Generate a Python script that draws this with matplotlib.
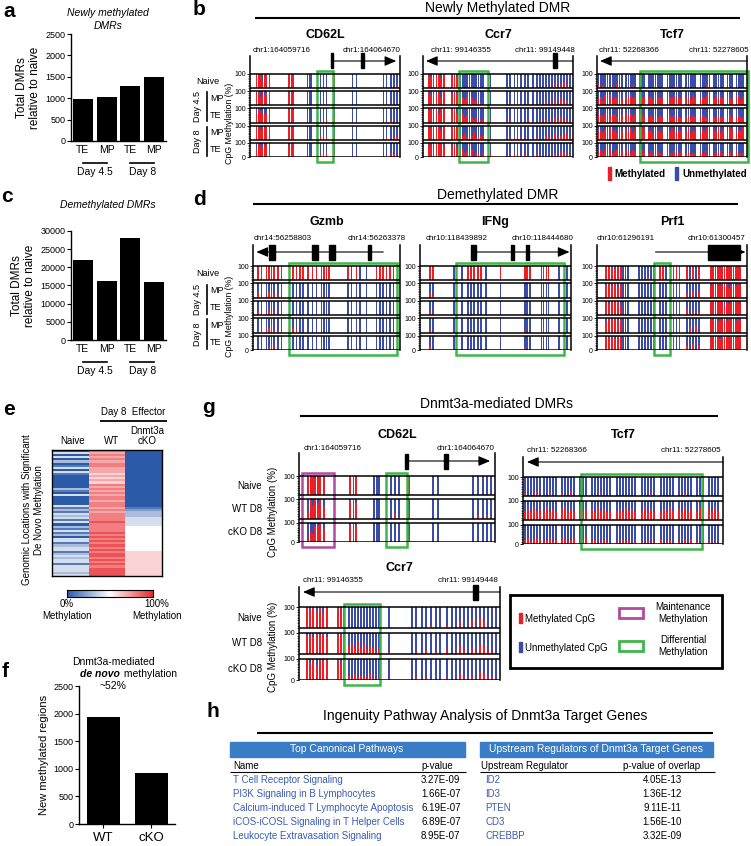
import numpy as np
import matplotlib
matplotlib.use('Agg')
import matplotlib.pyplot as plt
from matplotlib.patches import Rectangle
from matplotlib.colors import LinearSegmentedColormap

plt.rcParams['font.family'] = ['Liberation Sans', 'DejaVu Sans']

W, H = 751, 846
RED = '#ec1f27'
BLUE = '#3a4ca8'
GREEN = '#3fb54a'
MAGENTA = '#b14b9e'
LINK = '#3a5db4'
HEAD = '#3a7dc6'

# ---- panels a, c, f
bar_groups = ['TE', 'MP', 'TE', 'MP']
bar_days = ['Day 4.5', 'Day 8']
newly_methylated = [980, 1030, 1290, 1490]
demethylated = [22000, 16300, 28000, 16000]
f_labels = ['WT', 'cKO']
f_values = [1940, 930]

# ---- CpG methylation tracks
# one char per CpG: 0-9 = tenths methylated, x = fully methylated
b_samples = ['Naive', 'MP', 'TE', 'MP', 'TE']
g_samples = ['Naive', 'WT D8', 'cKO D8']

cd62l_pos = [4.4, 6.2, 7.3, 8.4, 9.6, 10.7, 12.9, 26.2, 27.8, 29, 38.4, 39.6, 40.8,
             47.1, 48.9, 51.1, 56, 68.4, 71.1, 88.9, 91.1, 93.8, 96, 97.8]
cd62l_b = ['xxx4xxx xxx 000 000 x 00 00002',
           '8x6x79x 8x9 010 221 3 00 01200',
           '7x8667x 9x8 001 132 4 10 00210',
           '9x7x8xx x9x 010 342 3 00 02013',
           '6x8798x 8x9 100 243 5 01 00321']
cd62l_g = ['xxx9xxx xxx 000 000 x 00 00000',
           '4x7x8x6 9x8 000 031 4 00 02020',
           '15489x7 9x9 000 000 3 00 00000']

ccr7_pos = [4, 5.5, 7, 9, 10.5, 12, 14, 19.5, 21, 22.5,
            25, 26.5, 28, 29.5, 31, 32.5, 34, 35.5, 37, 38.5, 40, 45,
            56, 58, 61, 63, 65.5, 68, 70,
            73.5, 76, 78, 80, 82, 84, 86, 88, 90, 92, 94, 96, 98]
ccr7_b = ['x8x9x7x 9x8 00000000000 0 0000010 0000100302420',
          'x7x8x6x 8x9 35462534221 1 0210201 0010300415330',
          '9x8x7xx 9x7 46353423122 2 1201012 1020210324221',
          'x8x9x7x x89 43524361233 1 0120100 0100310523441',
          '8x7x9x8 897 35342513212 2 1020120 0201100314321']
ccr7_g = ['x9x8x7x x9x 00000000000 0 0000100 1003004053000',
          '9x8x9x8 9x9 45363524312 1 0102010 2014203154210',
          'x8x7x9x x8x 21312213101 0 0101000 1003102043110']

tcf7_pos = [1, 2.5, 4, 5.5, 7, 8.5, 10.5, 12, 13.5, 15, 16.5,
            19.5, 21, 22.5, 24, 25.5, 28.5, 30, 31.5,
            34.5, 36, 37.5, 39, 40.5, 42, 43.5, 47, 48.5, 50, 51.5, 53, 54.5, 56,
            59.5, 61, 62.5, 64, 65.5, 69, 70.5, 72, 73.5, 75,
            78, 79.5, 81, 82.5, 84, 87, 88.5, 90, 93, 94.5, 96, 97.5]
tcf7_b = ['312041 20310 01020 010 1002010 0100200 01001 10020 00100 010 0010',
          '563757 46574 65756 465 5647565 4657465 56475 46574 57465 564 5746',
          '654675 56465 75646 564 4535453 3545343 45354 35435 43534 453 3543',
          '675768 67586 76857 687 6758675 7686576 68576 57686 76857 687 5768',
          '453545 34534 54354 453 3423432 4324234 34232 43423 24342 342 4323']
tcf7_g = ['201030 10210 20130 010 0102010 0010100 01020 10010 00201 010 0100',
          '564756 57465 67564 756 6475645 5647564 47564 56475 64756 475 6475',
          '231232 12312 32123 123 1201210 1021201 10201 20120 10202 101 1010']

gzmb_pos = [3.4, 5.7, 9.1, 10.9, 12.5, 14.1, 17, 19.3, 27.3, 29.5, 31.8, 34.1,
            37.5, 40.5, 43.2, 46.6, 48.4, 50, 51.6, 64.8, 67, 70.5, 72.7, 77.3,
            84.1, 86.4, 88.6, 90.9, 93.2, 95.5]
gzmb_d = ['xxxxxx9x xxxx xx9 xxxx x0x0 0 9xxxxx',
          '30154320 0000 000 0010 0000 0 000002',
          '20143210 0100 000 0001 0000 0 000010',
          '10235210 3200 000 0000 0000 0 000001',
          '00124310 0000 000 0000 0000 0 000000']

ifng_pos = [6.5, 8.4, 22.7, 27.9, 31.8, 33.8, 35.7, 38.3, 40.3, 43.5, 53.2,
            69.5, 70.8, 72.7, 80.5, 81.8, 83.8, 85, 92.2, 97.4]
ifng_d = ['xx 00 x9xxx 0 x xxx 8x9x 00',
          '31 00 00000 0 0 000 0200 00',
          '21 00 00100 0 0 100 0010 00',
          '20 00 01000 0 0 200 1300 00',
          '31 00 00000 0 0 200 0000 00']

prf1_pos = [6, 8, 10, 12, 14, 16, 17.5, 19, 20.5, 28, 30, 32, 34, 36, 38,
            42, 44, 46, 51, 53, 55, 60, 62, 64, 66, 68,
            76, 77.5, 79, 80.5, 82, 83.5, 85, 86.5, 88, 89.5, 91, 92.5, 94, 95.5]
prf1_d = ['xxx8xx 100 010200 xx0 xxx x0x0x xxxxxxxxxxxxxx',
          '9x8x7x 000 000000 000 x0x 30504 8x9x8x9x79x8x9',
          'x8x9x7 100 000000 000 x0x 40302 9x8x9x7x8x9xx8',
          '8x9x8x 000 000000 000 x0x 04050 x9x8x9x8x9x8x9',
          'x9x8x9 000 010000 000 x0x 30403 9x9x8x9x9x8x9x']

cd62l_chr = ('chr1:164059716', 'chr1:164064670')
ccr7_chr = ('chr11: 99146355', 'chr11: 99149448')
tcf7_chr = ('chr11: 52268366', 'chr11: 52278605')
gzmb_chr = ('chr14:56258803', 'chr14:56263378')
ifng_chr = ('chr10:118439892', 'chr10:118444680')
prf1_chr = ('chr10:61296191', 'chr10:61300457')

# gene models: (tail, arrow tip) and exons (start, width) in % of the window
cd62l_model = dict(tail=54.5, tip=97.5, exons=[(54.2, 1.2), (74.2, 2.0)])
ccr7_model = dict(tail=100, tip=2, exons=[(86.8, 2.4)])
tcf7_model = dict(tail=100, tip=2, exons=[])
gzmb_model = dict(tail=88.6, tip=2.3, exons=[(11, 4), (40, 4), (52, 4), (78, 2)])
ifng_model = dict(tail=35, tip=99, exons=[(34, 3), (60, 2.5), (70, 2.5)])
prf1_model = dict(tail=39, tip=99, exons=[(74, 21.5)])

# ---- panel e heatmap (rows = genomic locations)
heat_naive = '0404030140 4100000031 0400004131 4341403141 3044134413 4344144434'
heat_wt = '8787878877 7676768787 8788788787 8888988889 8989898989 9898989999'
heat_cko = '0000000000 0000000000 0000000123 3344445555 5555555566 6666666666'

# ---- panel h tables
pathways = ['T Cell Receptor Signaling', 'PI3K Signaling in B Lymphocytes',
            'Calcium-induced T Lymphocyte Apoptosis', 'iCOS-iCOSL Signaling in T Helper Cells',
            'Leukocyte Extravasation Signaling']
pathway_p = ['3.27E-09', '1.66E-07', '6.19E-07', '6.89E-07', '8.95E-07']
regulators = ['ID2', 'ID3', 'PTEN', 'CD3', 'CREBBP']
regulator_p = ['4.05E-13', '1.36E-12', '9.11E-11', '1.56E-10', '3.32E-09']


def meth(s):
    return np.array([1.0 if c == 'x' else int(c) / 10 for c in s.replace(' ', '')])


fig = plt.figure(figsize=(W / 100, H / 100), dpi=100)


def add_ax(x0, y0, x1, y1):
    return fig.add_axes([x0 / W, 1 - y1 / H, (x1 - x0) / W, (y1 - y0) / H])


def bar_panel(x0, y0, x1, y1, labels, values, ymax, step, width, ticklen=0, xfs=7.5):
    ax = add_ax(x0, y0, x1, y1)
    x = np.arange(len(values))
    ax.bar(x, values, width, color='black')
    ax.set_xlim(-0.5, len(values) - 0.5)
    ax.set_ylim(0, ymax)
    ax.set_yticks(np.arange(0, ymax + 1, step))
    ax.set_xticks(x, labels)
    for s in ('top', 'right'):
        ax.spines[s].set_visible(False)
    for s in ('left', 'bottom'):
        ax.spines[s].set_linewidth(1.0)
    ax.tick_params(axis='y', labelsize=6.5, length=3, width=0.8, pad=1)
    ax.tick_params(axis='x', labelsize=xfs, length=ticklen, width=0.8, pad=3)
    return ax


def day_groups(ax, h_px):
    tr = ax.get_xaxis_transform()
    for k, d in enumerate(bar_days):
        i0, i1 = 2 * k, 2 * k + 1
        ax.plot([i0, i1], [-22 / h_px] * 2, color='k', lw=1.2, transform=tr, clip_on=False)
        ax.text((i0 + i1) / 2, -31 / h_px, d, transform=tr, ha='center', va='center', fontsize=7.5)


def track(x0, x1, y_sp, y_top, y_bot, y_gene, pos, rows, model, boxes, width=1.1, gap=0.22):
    n = len(rows)
    T = n + (n - 1) * gap
    u = T / (y_bot - y_top)
    top = T + (y_top - y_sp) * u
    ax = add_ax(x0, y_sp, x1, y_bot)
    ax.set_xlim(0, 100)
    ax.set_ylim(0, top)
    ax.patch.set_alpha(0)
    pos = np.asarray(pos)
    tops = []
    for i, s in enumerate(rows):
        m = meth(s)
        base = T - 1 - i * (1 + gap)
        ax.bar(pos, m, width, bottom=base, color=RED, linewidth=0, antialiased=False)
        ax.bar(pos, 1 - m, width, bottom=base + m, color=BLUE, linewidth=0, antialiased=False)
        ax.hlines([base, base + 1], 0, 100, color='black', lw=1.1)
        tops.append(base + 1)
    ax.set_yticks(tops + [0])
    ax.set_yticklabels(['100'] * n + ['0'])
    minor = np.concatenate([np.arange(t - 1, t, 0.125) for t in tops])
    ax.set_yticks(minor, minor=True)
    ax.tick_params(axis='y', which='major', labelsize=5, length=2.5, width=0.6, pad=0.5)
    ax.tick_params(axis='y', which='minor', length=1.2, width=0.4)
    ax.set_xticks([])
    for s in ('top', 'bottom'):
        ax.spines[s].set_visible(False)
    for s in ('left', 'right'):
        ax.spines[s].set_linewidth(1.1)
    ys = T + (y_top - y_gene) * u
    eh = 15 * u
    ax.annotate('', xy=(model['tip'], ys), xytext=(model['tail'], ys),
                arrowprops=dict(arrowstyle='-|>,head_length=0.7,head_width=0.3', color='k',
                                lw=0.8, shrinkA=0, shrinkB=0), annotation_clip=False)
    for ex, ew in model['exons']:
        ax.add_patch(Rectangle((ex, ys - eh / 2), ew, eh, color='k', clip_on=False))
    for bx0, bx1, col in boxes:
        ax.add_patch(Rectangle((bx0, -5 * u), bx1 - bx0, T + 8 * u, fill=False,
                               ec=col, lw=1.8, clip_on=False))
    return [y_top + (i * (1 + gap) + 0.5) / u for i in range(n)]


# ---------------- panel a
ax_a = bar_panel(71, 34, 166, 141, bar_groups, newly_methylated, 2500, 500, 0.85)
ax_a.set_ylabel('Total DMRs\nrelative to naive', fontsize=8.5, labelpad=3, linespacing=1.1)
day_groups(ax_a, 107)

# ---------------- panel c
ax_c = bar_panel(71, 231, 166, 340, bar_groups, demethylated, 30000, 5000, 0.85)
ax_c.set_ylabel('Total DMRs\nrelative to naive', fontsize=8.5, labelpad=3, linespacing=1.1)
day_groups(ax_c, 109)

# ---------------- panel f
ax_f = bar_panel(79, 686, 175, 824, f_labels, f_values, 2500, 500, 0.69, ticklen=3, xfs=9.5)
ax_f.set_xlim(-0.51, 1.5)
ax_f.set_ylabel('New methylated regions', fontsize=8, labelpad=3)

# ---------------- panel b
b_geo = dict(y_sp=56, y_top=74, y_bot=157, y_gene=61)
rows_b = track(250, 400, pos=cd62l_pos, rows=cd62l_b, model=cd62l_model,
               boxes=[(44.7, 55.3, GREEN)], **b_geo)
track(423, 573, pos=ccr7_pos, rows=ccr7_b, model=ccr7_model,
      boxes=[(24, 43.3, GREEN)], **b_geo)
track(597, 747, pos=tcf7_pos, rows=tcf7_b, model=tcf7_model,
      boxes=[(28.7, 100.5, GREEN)], **b_geo)

# ---------------- panel d
d_geo = dict(y_sp=245, y_top=266, y_bot=350, y_gene=252)
rows_d = track(253, 400, pos=gzmb_pos, rows=gzmb_d, model=gzmb_model,
               boxes=[(24.5, 98, GREEN)], **d_geo)
track(420, 571, pos=ifng_pos, rows=ifng_d, model=ifng_model,
      boxes=[(23.8, 95.4, GREEN)], **d_geo)
track(597, 747, pos=prf1_pos, rows=prf1_d, model=prf1_model,
      boxes=[(38, 48.7, GREEN)], **d_geo)

# ---------------- panel g
rows_g1 = track(299, 495, 453, 476, 542, 461, cd62l_pos, cd62l_g, cd62l_model,
                [(1.5, 17.9, MAGENTA), (44.4, 55.1, GREEN)], width=1.0)
track(523, 723, 457, 477, 544, 462, tcf7_pos, tcf7_g, tcf7_model, [(29, 89.5, GREEN)],
      width=1.0)
rows_g2 = track(299, 500, 587, 607, 680, 592, ccr7_pos, ccr7_g, ccr7_model,
                [(22.4, 40.3, GREEN)], width=1.0)

# ---------------- panel e
cmap = LinearSegmentedColormap.from_list('meth', ['#2b5aa8', '#ffffff', '#e82a2e'])
ax_e = add_ax(52, 450, 162, 576)
heat = np.column_stack([meth(heat_naive), meth(heat_wt), meth(heat_cko)])
ax_e.imshow(heat, cmap=cmap, vmin=0, vmax=1, aspect='auto', interpolation='nearest')
ax_e.set_xticks([])
ax_e.set_yticks([])
for s in ax_e.spines.values():
    s.set_linewidth(1.0)
ax_cb = add_ax(67, 590, 153, 597)
ax_cb.imshow(np.linspace(0, 1, 256)[None, :], cmap=cmap, aspect='auto')
ax_cb.set_xticks([])
ax_cb.set_yticks([])

# ---------------- overlay (texts, rules, legends)
ov = fig.add_axes([0, 0, 1, 1])
ov.set_xlim(0, W)
ov.set_ylim(H, 0)
ov.axis('off')


def T(x, y, s, **kw):
    kw.setdefault('va', 'center')
    kw.setdefault('fontsize', 7)
    ov.text(x, y, s, **kw)


def hline(x0, x1, y, lw=1.5):
    ov.plot([x0, x1], [y, y], color='k', lw=lw, solid_capstyle='butt')


for letter, x, y in [('a', 3, 17), ('b', 193, 15), ('c', 1, 202), ('d', 193, 205),
                     ('e', 3, 415), ('f', 2, 677), ('g', 202, 413), ('h', 207, 717)]:
    T(x, y, letter, fontsize=15, fontweight='bold', va='baseline')

T(108, 13, 'Newly methylated', ha='center', style='italic', fontsize=7.5)
T(108, 26, 'DMRs', ha='center', style='italic', fontsize=7.5)
T(108, 205, 'Demethylated DMRs', ha='center', style='italic', fontsize=7.5)

# section headings
T(498, 8, 'Newly Methylated DMR', ha='center', fontsize=10)
hline(255, 740, 18)
T(498, 195, 'Demethylated DMR', ha='center', fontsize=10)
hline(253, 738, 204)
T(497, 404, 'Dnmt3a-mediated DMRs', ha='center', fontsize=10)
hline(300, 718, 416)

# gene names and coordinates
for x0, x1, name, chrs, yn, yc, fl, fr in [
        (250, 400, 'CD62L', cd62l_chr, 35, 50, 0.21, 0.81),
        (423, 573, 'Ccr7', ccr7_chr, 35, 50, 0.25, 0.81),
        (597, 747, 'Tcf7', tcf7_chr, 35, 50, 0.21, 0.81),
        (253, 400, 'Gzmb', gzmb_chr, 222, 238, 0.2, 0.84),
        (420, 571, 'IFNg', ifng_chr, 222, 238, 0.245, 0.81),
        (597, 747, 'Prf1', prf1_chr, 222, 238, 0.19, 0.8),
        (299, 495, 'CD62L', cd62l_chr, 435, 448, 0.17, 0.85),
        (523, 723, 'Tcf7', tcf7_chr, 435, 450, 0.17, 0.84),
        (299, 500, 'Ccr7', ccr7_chr, 568, 580, 0.17, 0.84)]:
    w = x1 - x0
    T(x0 + w / 2, yn, name, ha='center', fontsize=9, fontweight='bold')
    T(x0 + fl * w, yc, chrs[0], ha='center', fontsize=5.8)
    T(x0 + fr * w, yc, chrs[1], ha='center', fontsize=5.8)


def bd_labels(c):
    T(219, c[0], b_samples[0], ha='right', fontsize=6.5)
    for i in range(1, 5):
        T(210, c[i], b_samples[i], ha='left', fontsize=6.5)
    for k, (i0, i1) in enumerate([(1, 2), (3, 4)]):
        ov.plot([207, 207], [c[i0] - 6, c[i1] + 6], color='k', lw=1.2)
        T(198, (c[i0] + c[i1]) / 2, bar_days[k], ha='center', rotation=90, fontsize=6.5)
    T(229, (c[0] + c[-1]) / 2 + 8, 'CpG Methylation (%)', ha='center', rotation=90, fontsize=6.3)


bd_labels(rows_b)
bd_labels(rows_d)
for c in (rows_g1, rows_g2):
    for i, s in enumerate(g_samples):
        T(262, c[i], s, ha='right', fontsize=7)
    T(273, (c[0] + c[-1]) / 2 + 3, 'CpG Methylation (%)', ha='center', rotation=90, fontsize=7)

# panel b legend
ov.add_patch(Rectangle((608, 167), 3, 13, color=RED))
T(614, 174, 'Methylated', fontsize=7, fontweight='bold')
ov.add_patch(Rectangle((675, 167), 3, 13, color=BLUE))
T(682, 174, 'Unmethylated', fontsize=7, fontweight='bold')

# panel g legend
ov.add_patch(Rectangle((510, 595), 212, 73, fill=False, ec='k', lw=2))
ov.add_patch(Rectangle((519, 613), 3, 10, color=RED))
T(525, 619, 'Methylated CpG', fontsize=7)
ov.add_patch(Rectangle((519, 642), 3, 10, color=BLUE))
T(525, 648, 'Unmethylated CpG', fontsize=7)
ov.add_patch(Rectangle((619, 608), 24, 10, fill=False, ec=MAGENTA, lw=2))
T(683, 613, 'Maintenance\nMethylation', ha='center', fontsize=7, linespacing=1.15)
ov.add_patch(Rectangle((619, 641), 24, 10, fill=False, ec=GREEN, lw=2))
T(683, 646, 'Differential\nMethylation', ha='center', fontsize=7, linespacing=1.15)

# panel e labels
T(133, 412, 'Day 8  Effector', ha='center', fontsize=7)
hline(100, 167, 421, lw=1.3)
T(73, 441, 'Naive', ha='center', fontsize=7)
T(112, 441, 'WT', ha='center', fontsize=7)
T(147, 431, 'Dnmt3a', ha='center', fontsize=7)
T(147, 441, 'cKO', ha='center', fontsize=7)
T(33, 510, 'Genomic Locations with Significant\nDe Novo Methylation', ha='center',
  rotation=90, fontsize=7, linespacing=1.2)
T(67, 610, '0%\nMethylation', ha='center', fontsize=7, linespacing=1.2)
T(157, 610, '100%\nMethylation', ha='center', fontsize=7, linespacing=1.2)

# panel f title
T(113, 662, 'Dnmt3a-mediated', ha='center', fontsize=7.5)
T(120, 674, 'de novo', ha='right', fontsize=7.5, fontweight='bold', style='italic')
T(121, 674, ' methylation', ha='left', fontsize=7.5)
T(113, 686, '~52%', ha='center', fontsize=7.5)

# panel h
T(485, 716, 'Ingenuity Pathway Analysis of Dnmt3a Target Genes', ha='center', fontsize=10)
hline(257, 713, 733)
ov.add_patch(Rectangle((230, 742), 235, 15, color=HEAD))
T(347, 749.5, 'Top Canonical Pathways', ha='center', fontsize=7.5, color='white')
ov.add_patch(Rectangle((480, 742), 233, 15, color=HEAD))
T(596, 749.5, 'Upstream Regulators of Dnmt3a Target Genes', ha='center', fontsize=7.5, color='white')
T(233, 766, 'Name', fontsize=7)
T(421, 766, 'p-value', fontsize=7)
hline(230, 466, 772, lw=0.8)
T(481, 766, 'Upstream Regulator', fontsize=7)
T(623, 766, 'p-value of overlap', fontsize=7)
hline(480, 715, 772, lw=0.8)
for i in range(len(pathways)):
    y = 780 + 14 * i
    T(233, y, pathways[i], fontsize=7, color=LINK)
    T(421, y, pathway_p[i], fontsize=7)
    T(485, y, regulators[i], fontsize=7, color=LINK)
    T(662, y, regulator_p[i], ha='center', fontsize=7)

fig.savefig('out.png', dpi=100)
